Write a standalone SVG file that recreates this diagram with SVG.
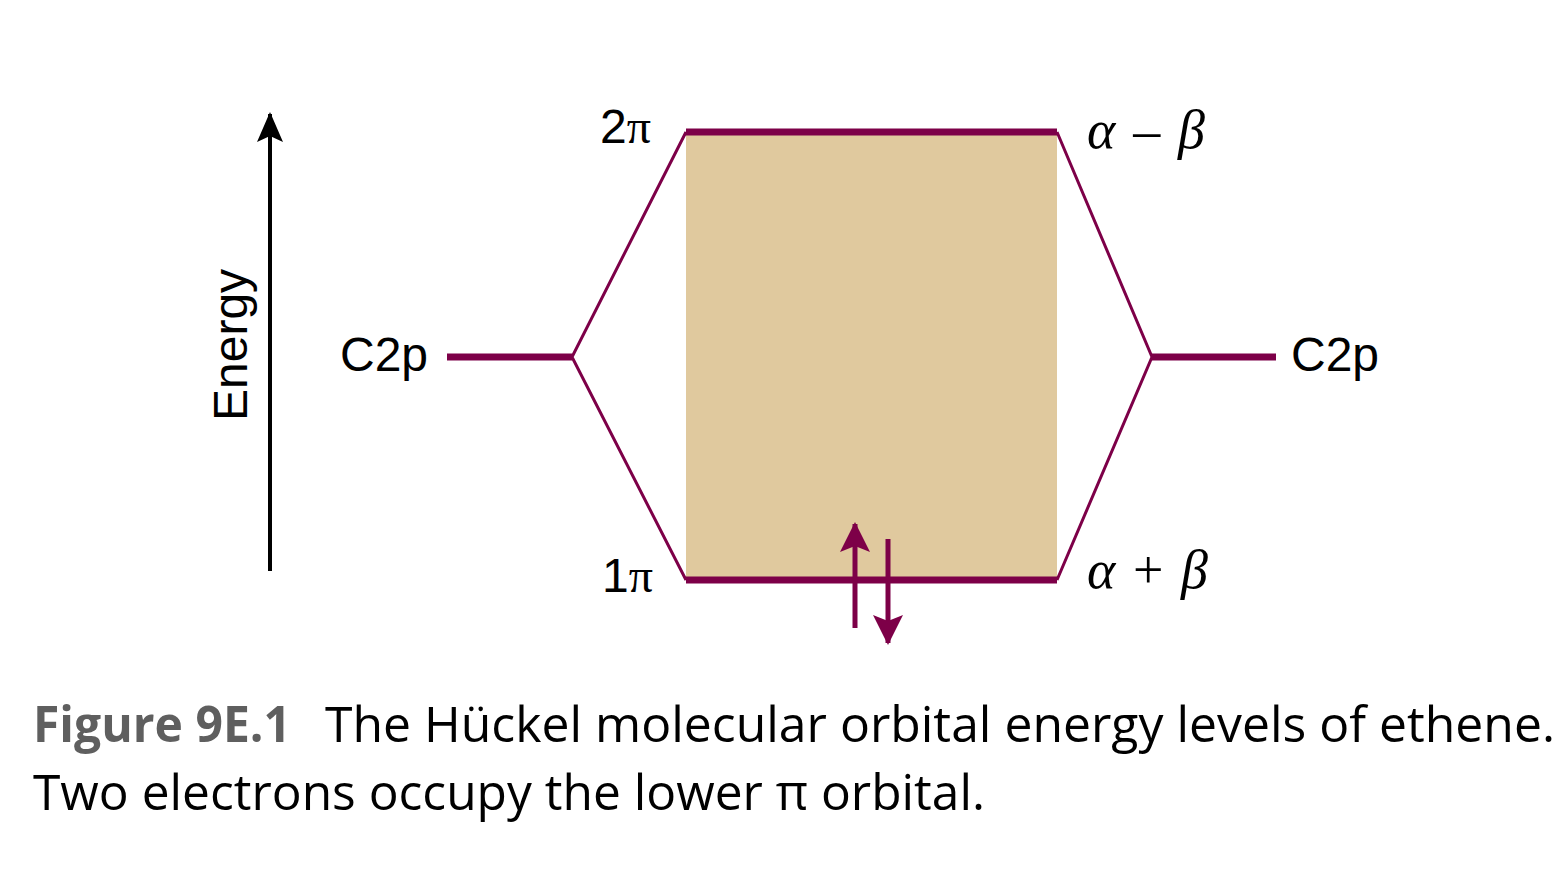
<svg xmlns="http://www.w3.org/2000/svg" width="1566" height="874" viewBox="0 0 1566 874">
<style>
.lvl{stroke:#7D0048;stroke-width:7;fill:none}
.diag{stroke:#7D0048;stroke-width:3;fill:none}
.lab{font-family:"Liberation Sans",Arial,sans-serif;font-size:48px;fill:#000}
.greek{font-family:"Liberation Serif","Times New Roman",serif;font-style:italic;font-size:54px;fill:#000}
.cap{font-family:"Open Sans","Noto Sans",sans-serif;font-size:50px;fill:#000}
.capb{font-family:"Open Sans","Noto Sans",sans-serif;font-size:50px;font-weight:bold;fill:#5F5F5F}
</style>
<defs>
<marker id="hk" viewBox="0 0 30 26" refX="28" refY="13" markerWidth="30" markerHeight="26" markerUnits="userSpaceOnUse" orient="auto">
<path d="M30,13 L0,0 L6,13 L0,26 Z" fill="#000"/>
</marker>
<marker id="hm" viewBox="0 0 30 30" refX="28" refY="15" markerWidth="30" markerHeight="30" markerUnits="userSpaceOnUse" orient="auto">
<path d="M30,15 L0,0 L6,15 L0,30 Z" fill="#7D0048"/>
</marker>
</defs>
<rect id="band" x="686" y="132" width="371" height="448" fill="#E0C99E"/>
<g id="connectors">
<line class="lvl" x1="447" y1="357" x2="572" y2="357"/>
<line class="lvl" x1="1152" y1="357" x2="1276" y2="357"/>
<polyline class="diag" points="686,132 572,357 686,580"/>
<polyline class="diag" points="1057,132 1152,357 1057,580"/>
</g>
<g id="level-2pi">
<line class="lvl" x1="686" y1="132" x2="1057" y2="132"/>
<text class="lab" x="600" y="143" font-size="49">2<tspan font-family="Liberation Serif,serif">π</tspan></text>
<text class="greek" x="1087" y="148" textLength="118" lengthAdjust="spacing">α <tspan font-style="normal">–</tspan> β</text>
</g>
<g id="level-1pi">
<line class="lvl" x1="686" y1="580" x2="1057" y2="580"/>
<text class="lab" x="602" y="592" font-size="49">1<tspan font-family="Liberation Serif,serif">π</tspan></text>
<text class="greek" x="1087" y="588" textLength="121" lengthAdjust="spacing">α <tspan font-style="normal">+</tspan> β</text>
</g>
<g id="electrons">
<line x1="855" y1="628" x2="855" y2="524" stroke="#7D0048" stroke-width="5" marker-end="url(#hm)"/>
<line x1="888" y1="539" x2="888" y2="643" stroke="#7D0048" stroke-width="5" marker-end="url(#hm)"/>
</g>
<g id="c2p-left"><text class="lab" x="340" y="371">C2p</text></g>
<g id="c2p-right"><text class="lab" x="1291" y="371">C2p</text></g>
<g id="energy-axis">
<line x1="270" y1="571" x2="270" y2="114" stroke="#000" stroke-width="4" marker-end="url(#hk)"/>
<text class="lab" transform="translate(247,421) rotate(-90)" x="0" y="0" font-size="49">Energy</text>
</g>
<g id="caption">
<text class="capb" x="33" y="742" textLength="258" lengthAdjust="spacingAndGlyphs">Figure 9E.1</text>
<text class="cap" x="325" y="742" textLength="1230" lengthAdjust="spacingAndGlyphs">The Hückel molecular orbital energy levels of ethene.</text>
<text class="cap" x="33" y="810" textLength="952" lengthAdjust="spacingAndGlyphs">Two electrons occupy the lower π orbital.</text>
</g>
</svg>
